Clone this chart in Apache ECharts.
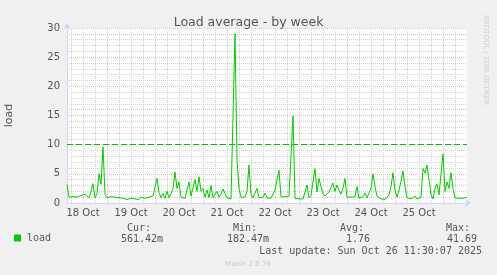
<!DOCTYPE html>
<html>
<head>
<meta charset="utf-8">
<script src="https://cdn.jsdelivr.net/npm/echarts@6/dist/echarts.min.js"></script>
<style>
html,body{margin:0;padding:0;background:#F0F0F0;}
#chart{width:497px;height:275px;}
</style>
</head>
<body>
<div id="chart"></div>
<script>
// Hours since Oct 18 00:00 (one sample per hour, from 04:00 Oct 18 to 12:00 Oct 26)
const startHour = 4;
const endHour = 204;
const loadValues = [
  3.2,1.0,0.7,1.1,0.8,1.0,0.9,1.3,1.2,1.5,1.3,0.9,2.0,3.3,0.9,1.5,5.0,3.2,9.6,1.5,
  0.9,0.7,1.1,0.8,1.0,0.7,0.9,1.2,0.8,1.0,0.6,0.9,0.8,1.1,0.7,0.9,0.6,1.0,1.2,0.8,
  1.0,1.0,1.1,1.2,1.0,4.2,1.8,0.9,1.6,0.8,2.0,0.9,1.6,2.5,5.3,2.5,3.6,1.0,0.7,0.8,
  2.2,3.6,1.2,2.6,4.0,2.0,4.5,2.0,2.5,1.0,2.2,0.9,3.0,0.9,1.0,2.0,1.0,1.5,2.4,2.5,
  0.9,1.0,0.7,1.0,29.0,7.5,2.5,1.0,0.8,1.0,2.0,6.5,1.5,0.9,1.0,2.5,0.9,0.7,1.0,1.7,
  0.9,1.1,0.8,1.0,2.2,4.0,5.6,1.0,0.8,1.1,0.9,1.2,1.0,14.9,0.8,0.6,0.7,0.5,0.7,0.6,
  3.1,0.9,1.3,1.4,5.9,1.9,4.2,2.8,1.6,1.2,1.3,1.9,2.7,3.4,2.0,3.1,2.2,1.5,2.5,4.2,
  1.0,0.9,1.0,1.3,1.1,2.8,0.8,1.0,1.1,1.7,0.9,1.1,2.5,5.0,2.8,1.2,0.9,0.7,0.9,0.6,
  1.0,1.4,2.8,5.2,2.2,1.0,2.2,3.7,5.5,2.8,0.9,0.6,0.7,0.6,1.2,0.7,0.8,1.0,5.9,5.1,
  6.5,6.4,1.5,0.7,2.5,3.3,1.4,5.0,8.4,2.0,3.6,2.5,5.2,2.5,0.9,0.7,0.8,0.5,0.8,0.9,
  1.0
];
const dayLabels = ['18 Oct','19 Oct','20 Oct','21 Oct','22 Oct','23 Oct','24 Oct','25 Oct'];
const warningLevel = 10;
const yTicks = [0,5,10,15,20,25,30];
const statLabels = ['Cur:','Min:','Avg:','Max:'];
const statValues = ['561.42m','182.47m','1.76','41.69'];
const lastUpdate = 'Last update: Sun Oct 26 11:30:07 2025';

const seriesData = loadValues.map((v, i) => [startHour + i, v]);
const minorHours = [], majorHours = [], noonHours = [];
for (let h = 6; h < endHour; h += 6) {
  if (h % 24 === 0) majorHours.push(h); else minorHours.push(h);
}
dayLabels.forEach((d, i) => noonHours.push(12 + 24 * i));

const font = 'DejaVu Sans, sans-serif';
const mono = 'DejaVu Sans Mono, monospace';
const axisCol = '#CFD6F8';
const minorCol = '#d2d2d2';
const majorCol = '#ecbcbc';

const chart = echarts.init(document.getElementById('chart'));
const statX = [139, 245, 352, 458];
const valX = [142, 248, 358, 462];
const graphics = [];
statLabels.forEach((t, i) => graphics.push({type:'text', x: statX[i], y: 228, style:{text:t, font:'10px '+mono, fill:'#555', align:'center', verticalAlign:'middle'}}));
statValues.forEach((t, i) => graphics.push({type:'text', x: valX[i], y: 239.5, style:{text:t, font:'10px '+mono, fill:'#555', align:'center', verticalAlign:'middle'}}));
graphics.push({type:'text', x: 482, y: 251, style:{text:lastUpdate, font:'10px '+mono, fill:'#555', align:'right', verticalAlign:'middle'}});
graphics.push({type:'text', x: 248, y: 264.5, style:{text:'Munin 2.0.76', font:'7px '+font, fill:'#c8c8c8', align:'center', verticalAlign:'middle'}});
graphics.push({type:'text', x: 489, y: 15, rotation: -Math.PI/2, style:{text:'RRDTOOL / TOBI OETIKER', font:'7px '+font, fill:'#d0d0d0', align:'left', verticalAlign:'top'}});

chart.setOption({
  animation: false,
  backgroundColor: '#F0F0F0',
  title: {text: 'Load average - by week', left: 'center', top: 11,
    textStyle: {fontFamily: font, fontSize: 12.5, fontWeight: 'normal', color: '#555'}},
  legend: {data: ['load'], left: 14, top: 233, padding: 0, icon: 'rect', itemWidth: 7, itemHeight: 7,
    textStyle: {fontFamily: mono, fontSize: 10, color: '#555', padding: [0,0,0,1]}},
  grid: {left: 67, right: 30, top: 28, bottom: 72, show: true, backgroundColor: '#ffffff', borderWidth: 0,
    containLabel: false, outerBoundsMode: 'none'},
  xAxis: [{
    type: 'value', min: startHour, max: endHour,
    axisLine: {show: true, lineStyle: {color: axisCol, width: 1}, symbol: ['none','arrow'], symbolSize: [6,6], symbolOffset: [0,4]},
    axisTick: {show: false, customValues: minorHours},
    splitLine: {show: true, lineStyle: {color: minorCol, type: [1,1], width: 1}},
    axisLabel: {show: true, customValues: noonHours, margin: 5, fontFamily: font, fontSize: 10, color: '#555',
      formatter: v => dayLabels[Math.round((v - 12) / 24)]}
  }, {
    type: 'value', min: startHour, max: endHour, position: 'bottom',
    axisLine: {show: false},
    axisTick: {show: false, customValues: majorHours},
    splitLine: {show: true, lineStyle: {color: majorCol, type: [1,1], width: 1}},
    axisLabel: {show: false}
  }],
  yAxis: {
    type: 'value', min: 0, max: 30, interval: 5,
    name: 'load', nameLocation: 'middle', nameGap: 52, nameRotate: 90,
    nameTextStyle: {fontFamily: font, fontSize: 11, color: '#555'},
    axisLine: {show: true, lineStyle: {color: axisCol, width: 1}, symbol: ['none','arrow'], symbolSize: [6,6], symbolOffset: [0,5]},
    axisTick: {show: false},
    axisLabel: {margin: 7, fontFamily: font, fontSize: 10, color: '#555',
      customValues: yTicks},
    splitLine: {show: true, lineStyle: {color: majorCol, type: [1,1], width: 1}},
    minorTick: {show: false, splitNumber: 5},
    minorSplitLine: {show: true, lineStyle: {color: minorCol, type: [1,1], width: 1}}
  },
  series: [{
    name: 'load', type: 'line', xAxisIndex: 0, data: seriesData, showSymbol: false, symbol: 'none',
    lineStyle: {color: '#00CC00', width: 1}, itemStyle: {color: '#00CC00'},
    z: 5,
    markLine: {silent: true, symbol: 'none', label: {show: false},
      lineStyle: {color: '#00BB00', type: [6,3], width: 1},
      data: [{yAxis: warningLevel}]}
  }],
  graphic: graphics
});
</script>
</body>
</html>
